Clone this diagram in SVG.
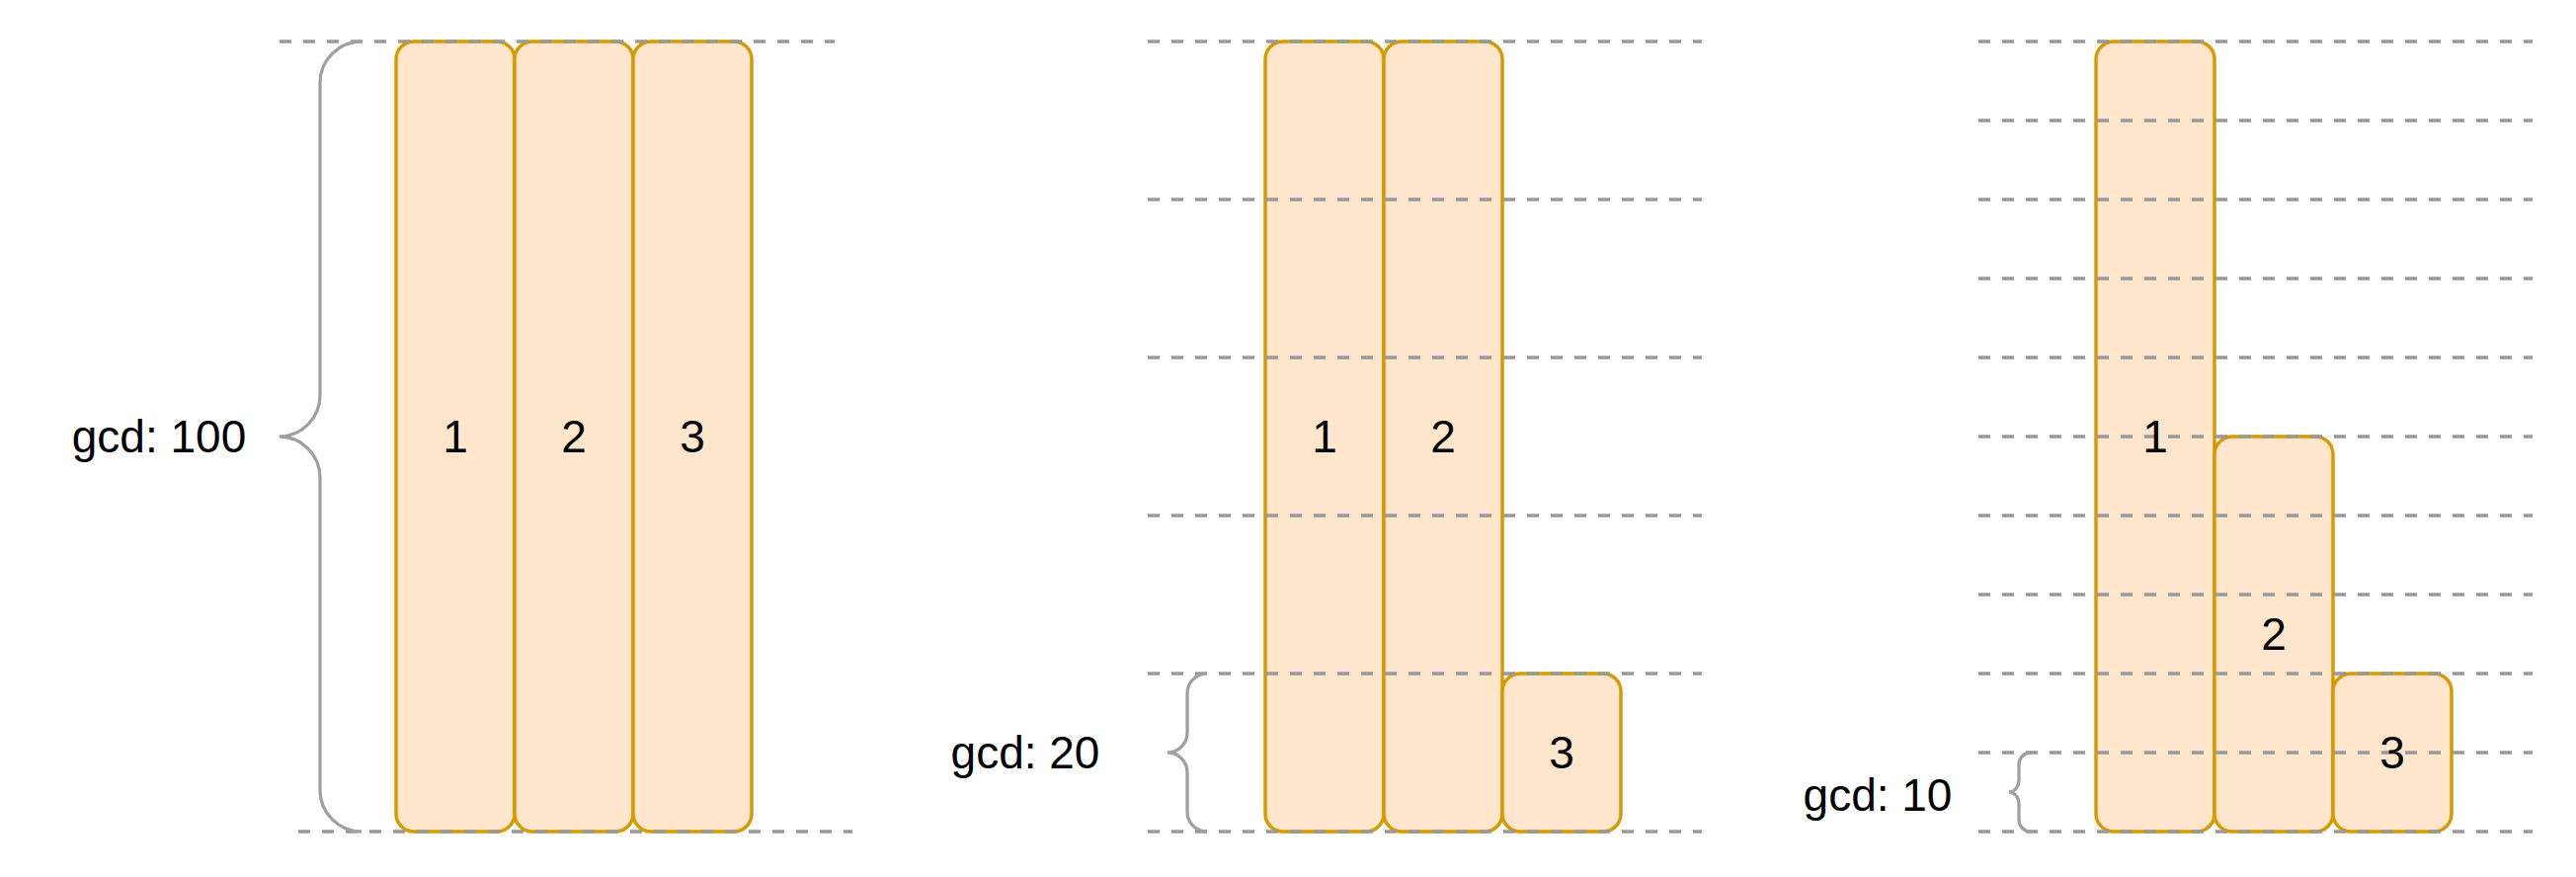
<svg xmlns="http://www.w3.org/2000/svg" width="2608" height="888" viewBox="0 0 2608 888">
<style>
.box{fill:#ffe6cc;stroke:#d79b00;stroke-width:3.5}
.grid{stroke:#999999;stroke-width:3.3;stroke-dasharray:12 12;fill:none}
.brace{stroke:#a0a0a0;stroke-width:3.3;fill:none}
.t{font-family:"Liberation Sans",Arial,Helvetica,sans-serif;font-size:46px;fill:#000;text-anchor:middle;dominant-baseline:central}
</style>
<rect width="2608" height="888" fill="#ffffff"/>
<g id="panel1-boxes">
<g id="p1-box1"><rect class="box" x="401" y="42" width="120" height="800" rx="18"/></g>
<g id="p1-box2"><rect class="box" x="521" y="42" width="120" height="800" rx="18"/></g>
<g id="p1-box3"><rect class="box" x="641" y="42" width="120" height="800" rx="18"/></g>
</g>
<g id="panel2-boxes">
<g id="p2-box1"><rect class="box" x="1281" y="42" width="120" height="800" rx="18"/></g>
<g id="p2-box2"><rect class="box" x="1401" y="42" width="120" height="800" rx="18"/></g>
<g id="p2-box3"><rect class="box" x="1521" y="682" width="120" height="160" rx="18"/></g>
</g>
<g id="panel3-boxes">
<g id="p3-box1"><rect class="box" x="2122" y="42" width="120" height="800" rx="18"/></g>
<g id="p3-box2"><rect class="box" x="2242" y="442" width="120" height="400" rx="18"/></g>
<g id="p3-box3"><rect class="box" x="2362" y="682" width="120" height="160" rx="18"/></g>
</g>
<g id="connectors">
<g id="grid1">
<line class="grid" x1="283" y1="42" x2="845" y2="42"/>
<line class="grid" x1="302" y1="842" x2="863" y2="842"/>
</g>
<g id="grid2">
<line class="grid" x1="1162" y1="42" x2="1723" y2="42"/>
<line class="grid" x1="1162" y1="202" x2="1723" y2="202"/>
<line class="grid" x1="1162" y1="362" x2="1723" y2="362"/>
<line class="grid" x1="1162" y1="522" x2="1723" y2="522"/>
<line class="grid" x1="1162" y1="682" x2="1723" y2="682"/>
<line class="grid" x1="1162" y1="842" x2="1723" y2="842"/>
</g>
<g id="grid3">
<line class="grid" x1="2003" y1="42" x2="2564" y2="42"/>
<line class="grid" x1="2003" y1="122" x2="2564" y2="122"/>
<line class="grid" x1="2003" y1="202" x2="2564" y2="202"/>
<line class="grid" x1="2003" y1="282" x2="2564" y2="282"/>
<line class="grid" x1="2003" y1="362" x2="2564" y2="362"/>
<line class="grid" x1="2003" y1="442" x2="2564" y2="442"/>
<line class="grid" x1="2003" y1="522" x2="2564" y2="522"/>
<line class="grid" x1="2003" y1="602" x2="2564" y2="602"/>
<line class="grid" x1="2003" y1="682" x2="2564" y2="682"/>
<line class="grid" x1="2003" y1="762" x2="2564" y2="762"/>
<line class="grid" x1="2003" y1="842" x2="2564" y2="842"/>
</g>
<path id="brace1" class="brace" d="M366 42 A42 42 0 0 0 324 84 L324 400 A41 42 0 0 1 283 442 A41 42 0 0 1 324 484 L324 800 A42 42 0 0 0 366 842"/>
<path id="brace2" class="brace" d="M1222 682 A20 20 0 0 0 1202 702 L1202 742 A20 20 0 0 1 1182 762 A20 20 0 0 1 1202 782 L1202 822 A20 20 0 0 0 1222 842"/>
<path id="brace3" class="brace" d="M2056 762 A12 12 0 0 0 2044 774 L2044 790 A10 12 0 0 1 2034 802 A10 12 0 0 1 2044 814 L2044 830 A12 12 0 0 0 2056 842"/>
</g>
<g id="labels">
<text class="t" x="461" y="442">1</text>
<text class="t" x="581" y="442">2</text>
<text class="t" x="701" y="442">3</text>
<text class="t" x="1341" y="442">1</text>
<text class="t" x="1461" y="442">2</text>
<text class="t" x="1581" y="762">3</text>
<text class="t" x="2182" y="442">1</text>
<text class="t" x="2302" y="642">2</text>
<text class="t" x="2422" y="762">3</text>
<text class="t" x="161" y="442">gcd: 100</text>
<text class="t" x="1038" y="762">gcd: 20</text>
<text class="t" x="1901" y="805">gcd: 10</text>
</g>
</svg>
